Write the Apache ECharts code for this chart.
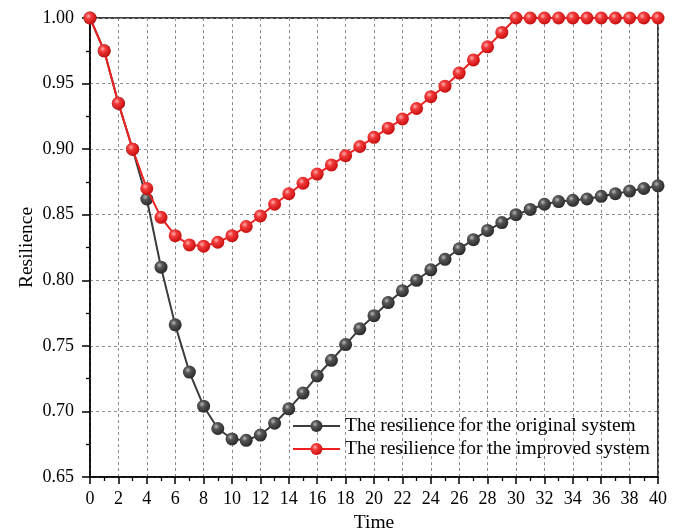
<!DOCTYPE html>
<html>
<head>
<meta charset="utf-8">
<script src="https://cdn.jsdelivr.net/npm/echarts@6/dist/echarts.min.js"></script>
<style>
html,body{margin:0;padding:0;background:#fff;}
#chart{width:678px;height:531px;}
</style>
</head>
<body>
<div id="chart"></div>
<script>
const times = [0,1,2,3,4,5,6,7,8,9,10,11,12,13,14,15,16,17,18,19,20,21,22,23,24,25,26,27,28,29,30,31,32,33,34,35,36,37,38,39,40];
const originalValues = [1.000,0.975,0.935,0.900,0.862,0.810,0.766,0.730,0.704,0.687,0.679,0.678,0.682,0.691,0.702,0.714,0.727,0.739,0.751,0.763,0.773,0.783,0.792,0.800,0.808,0.816,0.824,0.831,0.838,0.844,0.850,0.854,0.858,0.860,0.861,0.862,0.864,0.866,0.868,0.870,0.872];
const improvedValues = [1.000,0.975,0.935,0.900,0.870,0.848,0.834,0.827,0.826,0.829,0.834,0.841,0.849,0.858,0.866,0.874,0.881,0.888,0.895,0.902,0.909,0.916,0.923,0.931,0.940,0.948,0.958,0.968,0.978,0.989,1.000,1.000,1.000,1.000,1.000,1.000,1.000,1.000,1.000,1.000,1.000];
const seriesNames = ['The resilience for the original system','The resilience for the improved system'];

function pairs(vals){ return times.map((t,i)=>[t, vals[i]]); }
function sphere(light, mid, dark){
  return {type:'radial', x:0.38, y:0.35, r:0.65,
    colorStops:[{offset:0,color:light},{offset:0.35,color:mid},{offset:1,color:dark}]};
}
const font = '"Liberation Serif", "Times New Roman", serif';
const chart = echarts.init(document.getElementById('chart'));
chart.setOption({
  backgroundColor:'#fff',
  animation:false,
  grid:{left:90,right:20,top:18,bottom:54,outerBoundsMode:'none',containLabel:false,show:true,borderColor:'#000',borderWidth:1.5,backgroundColor:'transparent'},
  legend:{
    orient:'vertical', left:287, top:411, itemWidth:47, itemHeight:15, itemGap:3,
    textStyle:{fontFamily:font,fontSize:19.5,color:'#000'},
    data:seriesNames
  },
  xAxis:{
    type:'value', min:0, max:40, interval:2,
    name:'Time', nameLocation:'middle', nameGap:36, nameMoveOverlap:false,
    nameTextStyle:{fontFamily:font,fontSize:19.5,color:'#000'},
    axisLine:{show:true,lineStyle:{color:'#000',width:1.5}},
    axisTick:{show:true,inside:false,length:7,lineStyle:{color:'#000',width:1.5}},
    minorTick:{show:true,splitNumber:2,length:4,lineStyle:{color:'#000',width:1.3}},
    axisLabel:{fontFamily:font,fontSize:18,color:'#000',margin:13},
    splitLine:{show:true,lineStyle:{color:'#8c8c8c',type:[3,3],width:1}}
  },
  yAxis:{
    type:'value', min:0.65, max:1.0, interval:0.05,
    name:'Resilience', nameLocation:'middle', nameGap:53, nameMoveOverlap:false,
    nameTextStyle:{fontFamily:font,fontSize:19.5,color:'#000'},
    axisLine:{show:true,lineStyle:{color:'#000',width:1.5}},
    axisTick:{show:true,inside:false,length:8,lineStyle:{color:'#000',width:1.5}},
    minorTick:{show:true,splitNumber:2,length:4,lineStyle:{color:'#000',width:1.3}},
    axisLabel:{fontFamily:font,fontSize:18,color:'#000',margin:16,formatter:v=>v.toFixed(2)},
    splitLine:{show:true,lineStyle:{color:'#8c8c8c',type:[3,3],width:1}}
  },
  series:[
    {
      name:seriesNames[0], type:'line', data:pairs(originalValues),
      symbol:'circle', symbolSize:13,
      lineStyle:{color:'#3c3c3c',width:2},
      itemStyle:{color:sphere('#bbbbbb','#555555','#2a2a2a'),borderWidth:0},
      z:2
    },
    {
      name:seriesNames[1], type:'line', data:pairs(improvedValues),
      symbol:'circle', symbolSize:13,
      lineStyle:{color:'#f02020',width:2},
      itemStyle:{color:sphere('#ffb0b0','#f23a3a','#c80f0f'),borderWidth:0},
      z:3
    }
  ]
});
</script>
</body>
</html>
